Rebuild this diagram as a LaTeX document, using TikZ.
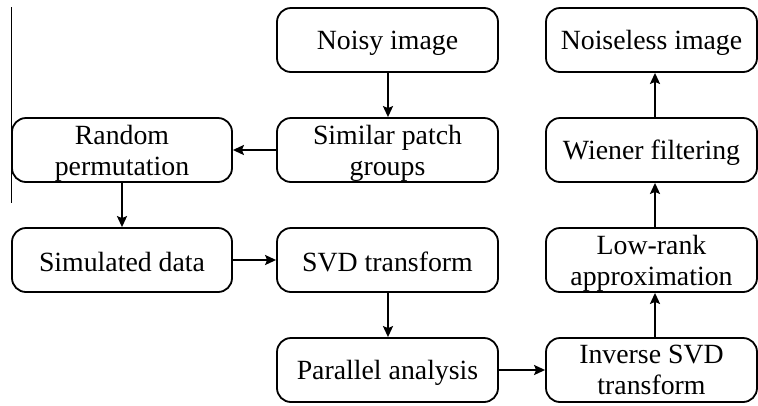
\documentclass[tikz,border=0pt]{standalone}
\usepackage{fontspec}
\setmainfont{Liberation Serif}
\usetikzlibrary{arrows.meta}
% tall invisible rule that pushes the text a little lower in its box
\newcommand{\capstrut}{\rule{0pt}{24pt}}
\begin{document}
\begin{tikzpicture}[x=1pt,y=-1pt,
  stage/.style={draw, line width=1.8pt, rounded corners=14pt, align=center,
    inner sep=0pt, minimum height=64pt, minimum width=221pt,
    font=\fontsize{27.8}{31}\selectfont, execute at begin node=\capstrut},
  narrow/.style={minimum width=211pt},
  flow/.style={-{Stealth[length=11pt,width=10pt,inset=2pt]}, line width=2pt}]
\useasboundingbox (0,0) rectangle (758,405);

% thin rule along the left margin
\coordinate (ruletop) at (11,7);
\coordinate (rulebot) at (11,203);
\draw[line width=1pt] (ruletop) -- (rulebot);

% middle column
\node[stage] (noisy)    at (387.5,40)  {Noisy image};
\node[stage] (similar)  at (387.5,150) {Similar patch\\\smash{groups}};
\node[stage] (svd)      at (387.5,260) {SVD transform};
\node[stage] (parallel) at (387.5,370) {Parallel analysis};

% left column
\node[stage, minimum width=220pt] (random)    at (122,150) {Random\\\smash{permutation}};
\node[stage, minimum width=220pt] (simulated) at (122,260) {Simulated data};

% right column
\node[stage, narrow] (noiseless) at (651.5,40)  {Noiseless image};
\node[stage, narrow] (wiener)    at (651.5,150) {Wiener filtering};
\node[stage, narrow] (lowrank)   at (651.5,260) {Low-rank\\\smash{approximation}};
\node[stage, narrow] (inverse)   at (651.5,370) {Inverse SVD\\transform};

% connectors
\draw[flow] ([xshift=0.5pt]noisy.south) -- ([xshift=0.5pt]similar.north);
\draw[flow] (similar.west) -- (random.east);
\draw[flow] (random.south) -- (simulated.north);
\draw[flow] (simulated.east) -- (svd.west);
\draw[flow] ([xshift=0.5pt]svd.south) -- ([xshift=0.5pt]parallel.north);
\draw[flow] (parallel.east) -- (inverse.west);
\draw[flow] ([xshift=3.5pt]inverse.north) -- ([xshift=3.5pt]lowrank.south);
\draw[flow] ([xshift=3.5pt]lowrank.north) -- ([xshift=3.5pt]wiener.south);
\draw[flow] ([xshift=3.5pt]wiener.north) -- ([xshift=3.5pt]noiseless.south);
\end{tikzpicture}
\end{document}
